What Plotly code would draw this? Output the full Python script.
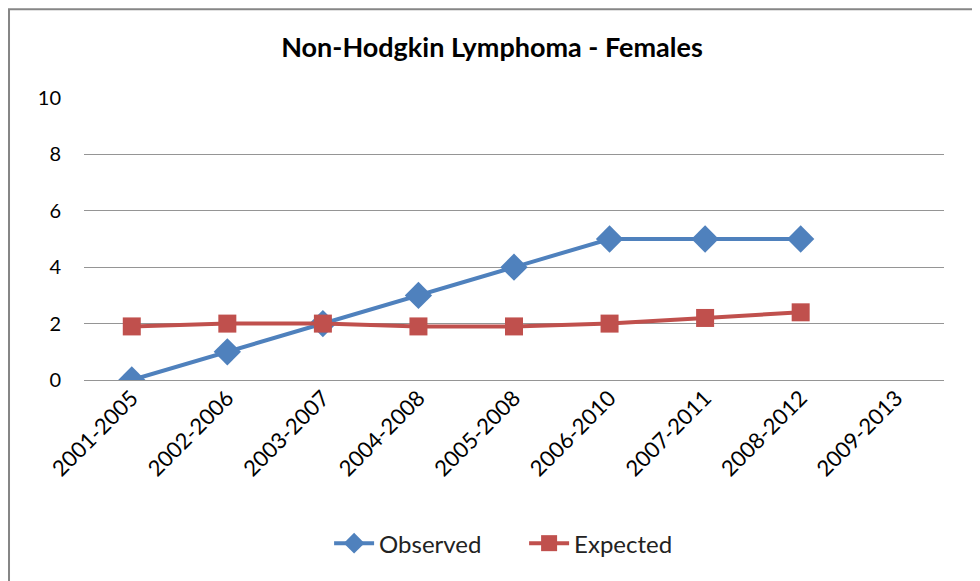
import plotly.graph_objects as go

periods = ['2001-2005', '2002-2006', '2003-2007', '2004-2008', '2005-2008',
           '2006-2010', '2007-2011', '2008-2012', '2009-2013']
observed = [0, 1, 2, 3, 4, 5, 5, 5]
expected = [1.9, 2.0, 2.0, 1.9, 1.9, 2.0, 2.2, 2.4]

font_family = 'Lato, Open Sans, sans-serif'

fig = go.Figure()
fig.add_trace(go.Scatter(x=periods[:len(observed)], y=observed, name='Observed', mode='lines+markers',
                         line=dict(width=4, color='#4F81BD'),
                         marker=dict(symbol='diamond', size=21, color='#4F81BD')))
fig.add_trace(go.Scatter(x=periods[:len(expected)], y=expected, name='Expected', mode='lines+markers',
                         line=dict(width=4, color='#C0504D'),
                         marker=dict(symbol='square', size=18, color='#C0504D')))

# outer chart border
fig.add_shape(type='rect', xref='paper', yref='paper', x0=-0.0872, x1=1.035, y0=-0.75, y1=1.315,
              line=dict(color='#868686', width=2), fillcolor='rgba(0,0,0,0)', layer='below')

fig.update_xaxes(categoryorder='array', categoryarray=periods, range=[-0.5, len(periods) - 0.5],
                 tickangle=-45, showgrid=False, showline=False, ticks='', automargin=False,
                 tickfont=dict(family=font_family, size=22, color='black'))
fig.update_yaxes(range=[0, 10], dtick=2, showgrid=True, gridcolor='#959595', gridwidth=1,
                 zeroline=True, zerolinecolor='#959595', zerolinewidth=1, showline=False, ticks='',
                 ticklabelstandoff=22, automargin=False,
                 tickfont=dict(family=font_family, size=20, color='black'))
fig.update_layout(
    width=980, height=581,
    title=dict(text='<b>Non-Hodgkin Lymphoma - Females</b>', x=(492 - 8) / 980, xanchor='center',
               y=1 - 40 / 581, yanchor='middle',
               font=dict(family=font_family, size=27, color='black')),
    margin=dict(l=76, r=44, t=90, b=209),
    plot_bgcolor='white', paper_bgcolor='white',
    legend=dict(orientation='h', x=0.285, xanchor='left', y=-0.58, yanchor='middle',
                entrywidth=140, itemwidth=40,
                font=dict(family=font_family, size=24, color='#222222')),
)
fig.write_html("out.html")
